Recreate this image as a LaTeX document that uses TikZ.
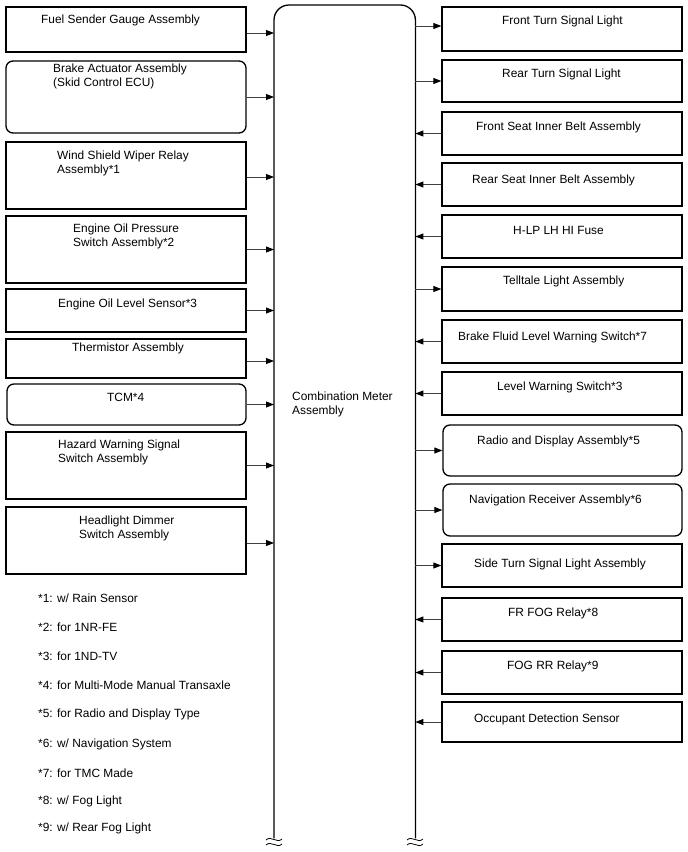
\documentclass[tikz,border=0pt]{standalone}
\usepackage{fontspec}
\setmainfont{Liberation Sans}
\usetikzlibrary{arrows.meta}
\begin{document}
\begin{tikzpicture}[x=1pt,y=-1pt,
  box/.style={draw=black, line width=1.3pt, minimum width=240pt, inner sep=0pt},
  rbox/.style={box, rounded corners=7pt},
  txt/.style={anchor=west, inner sep=0pt, yshift=-1pt, font=\fontsize{11.9}{14}\selectfont, align=left},
  arr/.style={draw=black!75, line width=0.9pt, -{Triangle[length=8pt,width=6pt,fill=black,color=black]}},
  wave/.style={draw=black, line width=0.8pt}]
\useasboundingbox (0,0) rectangle (688,852);
% central block
\node[minimum width=141pt, minimum height=833pt, inner sep=0pt, anchor=north west] (cm) at (274,5) {};
\draw[line width=1.3pt, rounded corners=15pt] (cm.south west) -- (cm.north west) -- (cm.north east) -- (cm.south east);
\node[txt] (cmt) at (292,403) {Combination Meter\\Assembly};
% break marks
\foreach \xx in {274,415}{
  \draw[wave] (\xx-8,840) .. controls (\xx-3,835) and (\xx+3,844) .. (\xx+8,839);
  \draw[wave] (\xx-8,845) .. controls (\xx-3,840) and (\xx+3,849) .. (\xx+8,844);
}
% left boxes
\node[box, minimum height=45pt] (L1) at (126,29.5) {};
\node[txt] at (41,19) {Fuel Sender Gauge Assembly};
\node[rbox, minimum height=72pt] (L2) at (126,97) {};
\node[txt] at (53,75.5) {Brake Actuator Assembly\\(Skid Control ECU)};
\node[box, minimum height=67pt] (L3) at (126,175.5) {};
\node[txt] at (57,162) {Wind Shield Wiper Relay\\Assembly*1};
\node[box, minimum height=67pt] (L4) at (126,249.5) {};
\node[txt] at (73,235) {Engine Oil Pressure\\Switch Assembly*2};
\node[box, minimum height=43pt] (L5) at (126,310.5) {};
\node[txt] at (58,303) {Engine Oil Level Sensor*3};
\node[box, minimum height=39pt] (L6) at (126,358.5) {};
\node[txt] at (72,347.5) {Thermistor Assembly};
\node[rbox, minimum height=41pt, minimum width=239pt] (L7) at (126.5,404.5) {};
\node[txt] at (107,396) {TCM*4};
\node[box, minimum height=67pt] (L8) at (126,465.5) {};
\node[txt] at (58,451.5) {Hazard Warning Signal\\Switch Assembly};
\node[box, minimum height=67pt] (L9) at (126,540.5) {};
\node[txt] at (79,527) {Headlight Dimmer\\Switch Assembly};
% left connectors
\draw[arr] ([yshift=-3.5pt]L1.east) -- ([yshift=-3.5pt]L1.east -| cm.west);
\draw[arr] (L2.east) -- (L2.east -| cm.west);
\draw[arr] ([yshift=-1.5pt]L3.east) -- ([yshift=-1.5pt]L3.east -| cm.west);
\draw[arr] (L4.east) -- (L4.east -| cm.west);
\draw[arr] (L5.east) -- (L5.east -| cm.west);
\draw[arr] ([yshift=-2.5pt]L6.east) -- ([yshift=-2.5pt]L6.east -| cm.west);
\draw[arr] (L7.east) -- (L7.east -| cm.west);
\draw[arr] (L8.east) -- (L8.east -| cm.west);
\draw[arr] ([yshift=-2.5pt]L9.east) -- ([yshift=-2.5pt]L9.east -| cm.west);
% right boxes
\node[box, minimum height=44pt] (R1) at (562,29) {};
\node[txt] at (502,20.5) {Front Turn Signal Light};
\node[box, minimum height=42pt] (R2) at (562,81) {};
\node[txt] at (502,73) {Rear Turn Signal Light};
\node[box, minimum height=43pt] (R3) at (562,133.5) {};
\node[txt] at (476,126) {Front Seat Inner Belt Assembly};
\node[box, minimum height=43pt] (R4) at (562,184.5) {};
\node[txt] at (472,179) {Rear Seat Inner Belt Assembly};
\node[box, minimum height=43pt] (R5) at (562,236.5) {};
\node[txt] at (513,229) {H-LP LH HI Fuse};
\node[box, minimum height=44pt] (R6) at (562,289) {};
\node[txt] at (503,280.5) {Telltale Light Assembly};
\node[box, minimum height=43pt] (R7) at (562,341.5) {};
\node[txt] at (458,336) {Brake Fluid Level Warning Switch*7};
\node[box, minimum height=43pt] (R8) at (562,393.5) {};
\node[txt] at (497,386.5) {Level Warning Switch*3};
\node[rbox, minimum height=51pt, minimum width=239pt] (R9) at (562.5,450.5) {};
\node[txt] at (477,440.5) {Radio and Display Assembly*5};
\node[rbox, minimum height=52pt, minimum width=239pt] (R10) at (562.5,510) {};
\node[txt] at (469,499) {Navigation Receiver Assembly*6};
\node[box, minimum height=43pt] (R11) at (562,565.5) {};
\node[txt] at (474,563) {Side Turn Signal Light Assembly};
\node[box, minimum height=43pt] (R12) at (562,619.5) {};
\node[txt] at (508,612.5) {FR FOG Relay*8};
\node[box, minimum height=43pt] (R13) at (562,672.5) {};
\node[txt] at (507,665) {FOG RR Relay*9};
\node[box, minimum height=40pt] (R14) at (562,722) {};
\node[txt] at (474,718) {Occupant Detection Sensor};
% right connectors
\draw[arr] ([yshift=3pt]R1.west -| cm.east) -- ([yshift=3pt]R1.west);
\draw[arr] (R2.west -| cm.east) -- (R2.west);
\draw[arr] (R3.west) -- (R3.west -| cm.east);
\draw[arr] (R4.west) -- (R4.west -| cm.east);
\draw[arr] (R5.west) -- (R5.west -| cm.east);
\draw[arr] (R6.west -| cm.east) -- (R6.west);
\draw[arr] (R7.west) -- (R7.west -| cm.east);
\draw[arr] (R8.west) -- (R8.west -| cm.east);
\draw[arr] (R9.west -| cm.east) -- (R9.west);
\draw[arr] (R10.west -| cm.east) -- (R10.west);
\draw[arr] (R11.west -| cm.east) -- (R11.west);
\draw[arr] (R12.west) -- (R12.west -| cm.east);
\draw[arr] (R13.west) -- (R13.west -| cm.east);
\draw[arr] (R14.west) -- (R14.west -| cm.east);
% footnotes
\node[txt] at (38,597) {*1: w/ Rain Sensor};
\node[txt] at (38,626) {*2: for 1NR-FE};
\node[txt] at (38,655) {*3: for 1ND-TV};
\node[txt] at (38,684) {*4: for Multi-Mode Manual Transaxle};
\node[txt] at (38,713) {*5: for Radio and Display Type};
\node[txt] at (38,743) {*6: w/ Navigation System};
\node[txt] at (38,772) {*7: for TMC Made};
\node[txt] at (38,800) {*8: w/ Fog Light};
\node[txt] at (38,827) {*9: w/ Rear Fog Light};
\end{tikzpicture}
\end{document}
